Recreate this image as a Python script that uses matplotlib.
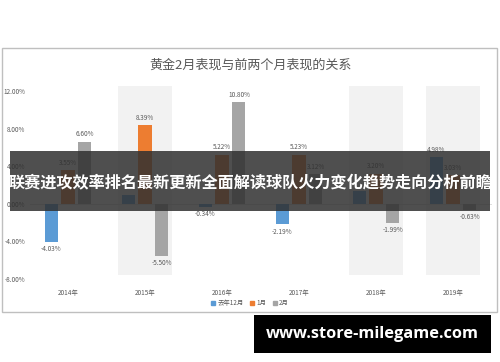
import numpy as np
import matplotlib
matplotlib.use("Agg")
import matplotlib.pyplot as plt
from matplotlib.patches import Rectangle
from matplotlib.ticker import FuncFormatter

plt.rcParams['font.family'] = ['Noto Sans CJK SC', 'DejaVu Sans']

# data (%)
years = ['2014年', '2015年', '2016年', '2017年', '2018年', '2019年']
dec_prev = [-4.03, 0.95, -0.34, -2.19, 1.38, 4.98]
jan = [3.55, 8.39, 5.22, 5.23, 3.20, 3.03]
feb = [6.60, -5.50, 10.80, 3.12, -1.99, -0.63]
series_names = ['去年12月', '1月', '2月']
highlight = ['2015年', '2018年', '2019年']
# labels that sit under the banner text in the reference are not shown
hidden_labels = [(0, 1), (0, 4)]

title = '黄金2月表现与前两个月表现的关系'
banner = '联赛进攻效率排名最新更新全面解读球队火力变化趋势走向分析前瞻'
site = 'www.store-milegame.com'

colors = ['#5B9BD5', '#ED7D31', '#A5A5A5']

fig = plt.figure(figsize=(5, 3.62), dpi=100)
fig.patch.set_facecolor('white')

# chart frame
fig.patches.append(Rectangle((0.003, 1 - 312 / 362), 0.991, (312 - 48) / 362,
                             transform=fig.transFigure, fill=False,
                             edgecolor='#BFBFBF', linewidth=1.0))

ax = fig.add_axes([0.059, 0.229, 0.924, 0.533])
x = np.arange(len(years))

# shaded columns behind highlighted years
hl = [i for i, y in enumerate(years) if y in highlight]
ax.bar(hl, [20.05] * len(hl), bottom=-7.55, width=0.71, color='#F2F2F2', zorder=0)

offsets = [-0.22, 0.0, 0.22]
for si, (vals, off, c) in enumerate(zip([dec_prev, jan, feb], offsets, colors)):
    bars = ax.bar(x + off, vals, width=0.17, color=c, zorder=2)
    for i, (b, v) in enumerate(zip(bars, vals)):
        if (si, i) in hidden_labels:
            continue
        if v >= 0:
            ax.text(b.get_x() + b.get_width() / 2, v + 0.35, f'{v:.2f}%',
                    ha='center', va='bottom', fontsize=4.6, color='#595959')
        else:
            ax.text(b.get_x() + b.get_width() / 2, v - 0.35, f'{v:.2f}%',
                    ha='center', va='top', fontsize=4.6, color='#595959')

ax.set_xlim(-0.5, len(years) - 0.5)
ax.set_ylim(-8, 12.5)
ax.set_yticks([-8, -4, 0, 4, 8, 12])
ax.yaxis.set_major_formatter(FuncFormatter(lambda v, p: f'{v:.2f}%'))
ax.set_xticks(x)
ax.set_xticklabels(years)
ax.tick_params(axis='both', length=0, labelsize=4.6, labelcolor='#595959')
ax.tick_params(axis='x', pad=7)
ax.tick_params(axis='y', pad=3)
for s in ax.spines.values():
    s.set_visible(False)
ax.axhline(0, color='#D9D9D9', linewidth=0.6, zorder=1)

fig.text(0.5, 1 - 65 / 362, title, ha='center', va='center',
         fontsize=9.4, color='#595959')

# legend
handles = [Rectangle((0, 0), 1, 1, color=c) for c in colors]
fig.legend(handles, series_names, loc='center', bbox_to_anchor=(0.5, 1 - 303 / 362),
           ncol=3, frameon=False, fontsize=4.6, handlelength=0.6, handleheight=0.6,
           columnspacing=1.0, handletextpad=0.4, labelcolor='#595959')

# dark overlay banner
fig.patches.append(Rectangle((10 / 500, 1 - 211 / 362), 480 / 500, 60 / 362,
                             transform=fig.transFigure, facecolor='#303030',
                             alpha=0.85, edgecolor='none', zorder=5))
fig.text(0.5, 1 - 182 / 362, banner, ha='center', va='center',
         fontsize=11.6, color='white', fontweight='bold', zorder=6)

# site box
fig.patches.append(Rectangle((254 / 500, 1 - 353 / 362), 237 / 500, 38 / 362,
                             transform=fig.transFigure, facecolor='black',
                             edgecolor='none', zorder=5))
fig.text(372 / 500, 1 - 334 / 362, site, ha='center', va='center',
         fontsize=11.8, color='white', fontweight='bold', zorder=6,
         family=['Open Sans', 'DejaVu Sans'])

fig.savefig('out.png', dpi=100)
